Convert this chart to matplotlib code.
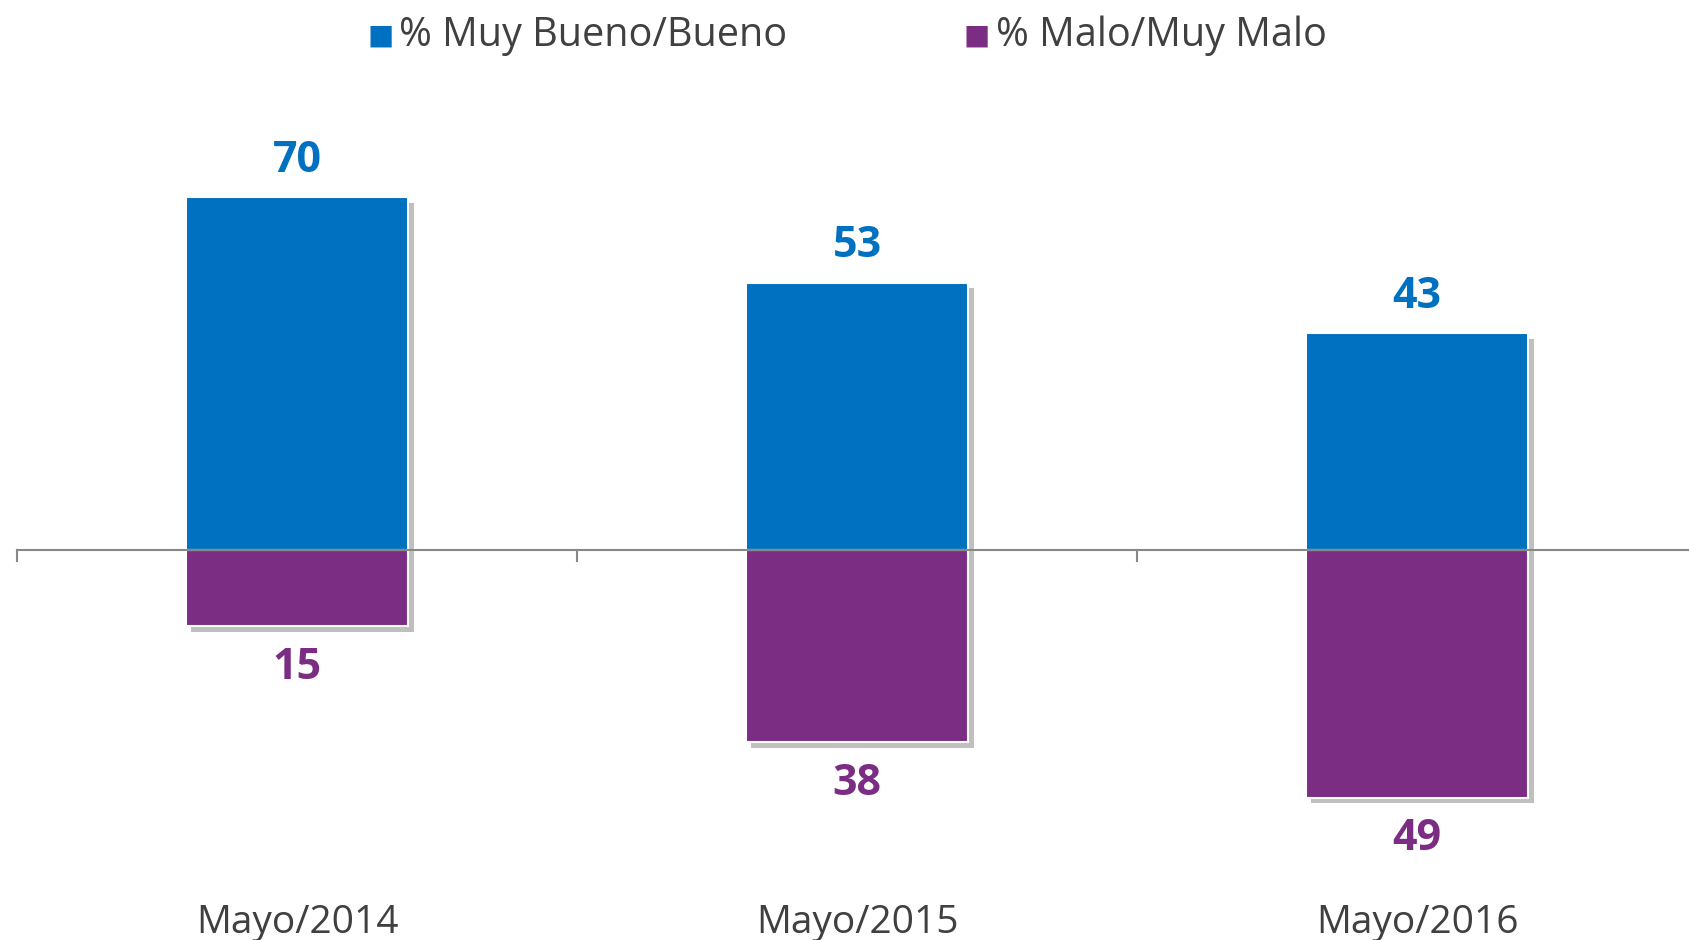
import matplotlib
matplotlib.use("Agg")
import matplotlib.pyplot as plt
import matplotlib.patheffects as pe
import numpy as np

categories = ["Mayo/2014", "Mayo/2015", "Mayo/2016"]
bueno = [70, 53, 43]
malo = [15, 38, 49]
series_names = ["% Muy Bueno/Bueno", "% Malo/Muy Malo"]

BLUE = "#0070C0"
PURPLE = "#7B2C83"
TEXT = "#404040"

plt.rcParams['font.family'] = ['Open Sans', 'DejaVu Sans']

W, H = 1689, 940
fig = plt.figure(figsize=(W/100, H/100), dpi=100)
ax = fig.add_axes([17/W, 0, 1680/W, 1])
ax.set_xlim(-0.5, 2.5)
ax.set_ylim(-77.2, 109.05)
ax.patch.set_alpha(0)

x = np.arange(len(categories))
shadow = [pe.SimplePatchShadow(offset=(4, -4), shadow_rgbFace='black', alpha=0.25), pe.Normal()]
b1 = ax.bar(x, bueno, width=0.397, color=BLUE, edgecolor='white', linewidth=1.5, zorder=3)
b2 = ax.bar(x, [-v for v in malo], width=0.397, color=PURPLE, edgecolor='white', linewidth=1.5, zorder=3)
for b in list(b1) + list(b2):
    b.set_path_effects(shadow)

ax.axhline(0, color='#888888', lw=1.5, zorder=4)
for t in [-0.5, 0.5, 1.5, 2.5]:
    ax.plot([t, t], [0, -2.2], color='#888888', lw=1.5, zorder=4, clip_on=False)

for xi, v in zip(x, bueno):
    ax.annotate(str(v), (xi, v), xytext=(0, 37), textcoords='offset pixels',
                ha='center', va='center', fontsize=31, fontweight='bold', color=BLUE, zorder=5)
for xi, v in zip(x, malo):
    ax.annotate(str(v), (xi, -v), xytext=(0, -41), textcoords='offset pixels',
                ha='center', va='center', fontsize=31, fontweight='bold', color=PURPLE, zorder=5)

for xi, c in zip(x, categories):
    ax.text(xi, (H - 933) / H, c, transform=ax.get_xaxis_transform(), ha='center', va='baseline',
            fontsize=28, color=TEXT)

ax.axis('off')

# legend
fig.text(367/W, 1 - 36/H, "\u25A0", ha='left', va='center', fontsize=20, color=BLUE, family=['DejaVu Sans'])
fig.text(399/W, 1 - 36/H, series_names[0], ha='left', va='center', fontsize=28.5, color=TEXT)
fig.text(964/W, 1 - 36/H, "\u25A0", ha='left', va='center', fontsize=20, color=PURPLE, family=['DejaVu Sans'])
fig.text(996/W, 1 - 36/H, series_names[1], ha='left', va='center', fontsize=28.5, color=TEXT)

fig.savefig("out.png", dpi=100, facecolor='white')
